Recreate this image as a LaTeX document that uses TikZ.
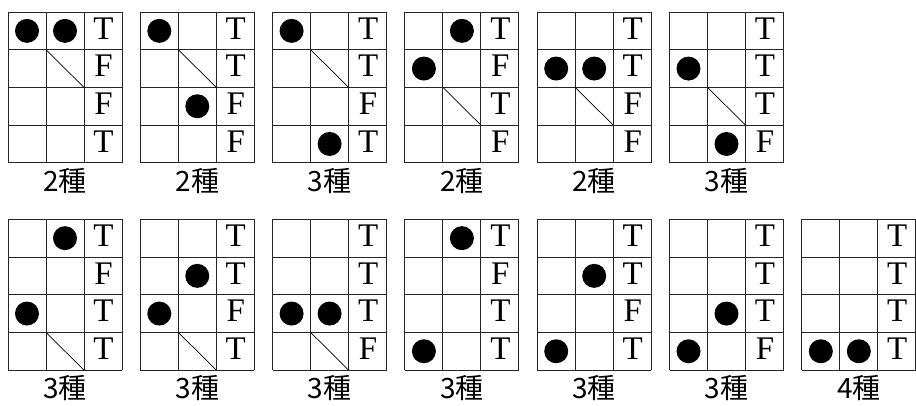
\documentclass[tikz,border=0pt]{standalone}
\usepackage{fontspec}
\setmainfont{Liberation Serif}
\newfontfamily\cjkfont{Noto Sans CJK JP}
\tikzset{
  gridline/.style={draw=black!85, line width=1pt},
  diagline/.style={draw=black, line width=0.7pt},
  dot/.style={fill=black},
  letter/.style={inner sep=0pt, anchor=base, font=\fontsize{33}{33}\selectfont},
  countlabel/.style={inner sep=0pt, font=\cjkfont\fontsize{28}{28}\selectfont},
}
% #1 name, #2 x, #3 y, #4 dots r/c, #5 diagonal row (0 none), #6 letters, #7 label
\newcommand\onegrid[7]{%
\begin{scope}[shift={(#2,#3)}]
  \foreach \i in {0,...,3} \draw[gridline] (\i*38,0) -- (\i*38,150.8);
  \foreach \j in {0,...,4} \draw[gridline] (0,\j*37.7) -- (114,\j*37.7);
  \foreach \r/\c in {#4} \fill[dot] (\c*38-19,\r*37.7-18.85) circle (12pt);
  \ifnum#5>0 \draw[diagline] (38,{(#5-1)*37.7}) -- (76,{#5*37.7});\fi
  \foreach \L [count=\k] in {#6} \node[letter] (#1-l\k) at (95.5,\k*37.7-10.7) {\L};
  \node[countlabel] (#1-lab) at (57,169) {#7};
\end{scope}}
\begin{document}
\begin{tikzpicture}[x=1pt,y=-1pt]
\useasboundingbox (0,0) rectangle (916,405);
\fill[white] (0,0) rectangle (916,405);
% top row
\onegrid{a1}{8}{12}{1/1,1/2}{2}{T,F,F,T}{2種}
\onegrid{a2}{140.3}{12}{1/1,3/2}{2}{T,T,F,F}{2種}
\onegrid{a3}{272.6}{12}{1/1,4/2}{2}{T,T,F,T}{3種}
\onegrid{a4}{404.9}{12}{1/2,2/1}{3}{T,F,T,F}{2種}
\onegrid{a5}{537.2}{12}{2/1,2/2}{3}{T,T,F,F}{2種}
\onegrid{a6}{669.5}{12}{2/1,4/2}{3}{T,T,T,F}{3種}
% bottom row
\onegrid{b1}{8}{219.3}{1/2,3/1}{4}{T,F,T,T}{3種}
\onegrid{b2}{140.3}{219.3}{2/2,3/1}{4}{T,T,F,T}{3種}
\onegrid{b3}{272.6}{219.3}{3/1,3/2}{4}{T,T,T,F}{3種}
\onegrid{b4}{404.9}{219.3}{1/2,4/1}{0}{T,F,T,T}{3種}
\onegrid{b5}{537.2}{219.3}{2/2,4/1}{0}{T,T,F,T}{3種}
\onegrid{b6}{669.5}{219.3}{3/2,4/1}{0}{T,T,T,F}{3種}
\onegrid{b7}{801.8}{219.3}{4/1,4/2}{0}{T,T,T,T}{4種}
\end{tikzpicture}
\end{document}
